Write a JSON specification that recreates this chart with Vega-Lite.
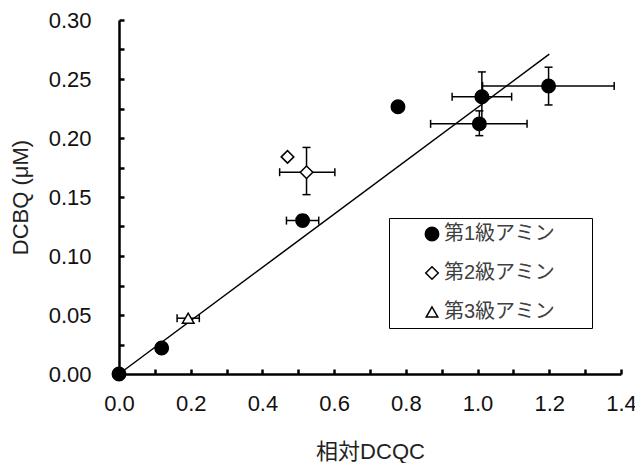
{
  "$schema": "https://vega.github.io/schema/vega-lite/v6.json",
  "width": 502,
  "height": 354,
  "autosize": {"type": "none"},
  "padding": {"left": 119, "top": 20, "right": 14, "bottom": 89},
  "background": "white",
  "datasets": {
    "pts": [
      {"type": "第1級アミン", "x": 0.0, "y": 0.0},
      {"type": "第1級アミン", "x": 0.119, "y": 0.022},
      {"type": "第1級アミン", "x": 0.512, "y": 0.130, "xlo": 0.467, "xhi": 0.557, "ylo": 0.126, "yhi": 0.135},
      {"type": "第1級アミン", "x": 0.778, "y": 0.2265},
      {"type": "第1級アミン", "x": 1.012, "y": 0.235, "xlo": 0.929, "xhi": 1.095, "ylo": 0.214, "yhi": 0.256},
      {"type": "第1級アミン", "x": 1.005, "y": 0.212, "xlo": 0.869, "xhi": 1.138, "ylo": 0.202, "yhi": 0.223},
      {"type": "第1級アミン", "x": 1.198, "y": 0.244, "xlo": 1.014, "xhi": 1.381, "ylo": 0.228, "yhi": 0.260},
      {"type": "第2級アミン", "x": 0.470, "y": 0.184},
      {"type": "第2級アミン", "x": 0.523, "y": 0.171, "xlo": 0.448, "xhi": 0.602, "ylo": 0.152, "yhi": 0.192},
      {"type": "第3級アミン", "x": 0.193, "y": 0.0473, "xlo": 0.162, "xhi": 0.224}
    ],
    "fit": [
      {"x": 0.0, "y": 0.0},
      {"x": 1.2, "y": 0.271}
    ]
  },
  "resolve": {"axis": {"x": "independent", "y": "independent"}},
  "layer": [
    {
      "data": {"name": "fit"},
      "mark": {"type": "line", "color": "black", "strokeWidth": 1.5},
      "encoding": {
        "x": {
          "field": "x", "type": "quantitative",
          "scale": {"domain": [0, 1.4], "nice": false, "zero": false},
          "axis": {
            "orient": "bottom",
            "title": null, "domain": false, "labels": false, "ticks": true,
            "tickSize": 5, "offset": -5, "tickWidth": 2.5, "tickColor": "black",
            "values": [0, 0.1, 0.2, 0.3, 0.4, 0.5, 0.6, 0.7, 0.8, 0.9, 1.0, 1.1, 1.2, 1.3, 1.4]
          }
        },
        "y": {
          "field": "y", "type": "quantitative",
          "scale": {"domain": [0, 0.3], "nice": false, "zero": false},
          "axis": {
            "orient": "left",
            "title": null, "domain": false, "labels": false, "ticks": true,
            "tickSize": 5, "offset": -5, "tickWidth": 2.5, "tickColor": "black",
            "values": [0, 0.025, 0.05, 0.075, 0.1, 0.125, 0.15, 0.175, 0.2, 0.225, 0.25, 0.275, 0.3]
          }
        }
      }
    },
    {
      "data": {"name": "pts"},
      "transform": [{"filter": "isValid(datum.xlo)"}],
      "mark": {"type": "rule", "color": "black", "strokeWidth": 1.5},
      "encoding": {
        "x": {"field": "xlo", "type": "quantitative", "axis": null},
        "x2": {"field": "xhi"},
        "y": {"field": "y", "type": "quantitative", "axis": null}
      }
    },
    {
      "data": {"name": "pts"},
      "transform": [{"filter": "isValid(datum.ylo)"}],
      "mark": {"type": "rule", "color": "black", "strokeWidth": 1.5},
      "encoding": {
        "x": {"field": "x", "type": "quantitative", "axis": null},
        "y": {"field": "ylo", "type": "quantitative", "axis": null},
        "y2": {"field": "yhi"}
      }
    },
    {
      "data": {"name": "pts"},
      "transform": [{"filter": "isValid(datum.xlo)"}],
      "mark": {"type": "tick", "orient": "vertical", "color": "black", "size": 8, "thickness": 1.5, "opacity": 1},
      "encoding": {
        "x": {"field": "xlo", "type": "quantitative", "axis": null},
        "y": {"field": "y", "type": "quantitative", "axis": null}
      }
    },
    {
      "data": {"name": "pts"},
      "transform": [{"filter": "isValid(datum.xhi)"}],
      "mark": {"type": "tick", "orient": "vertical", "color": "black", "size": 8, "thickness": 1.5, "opacity": 1},
      "encoding": {
        "x": {"field": "xhi", "type": "quantitative", "axis": null},
        "y": {"field": "y", "type": "quantitative", "axis": null}
      }
    },
    {
      "data": {"name": "pts"},
      "transform": [{"filter": "isValid(datum.ylo)"}],
      "mark": {"type": "tick", "orient": "horizontal", "color": "black", "size": 8, "thickness": 1.5, "opacity": 1},
      "encoding": {
        "x": {"field": "x", "type": "quantitative", "axis": null},
        "y": {"field": "ylo", "type": "quantitative", "axis": null}
      }
    },
    {
      "data": {"name": "pts"},
      "transform": [{"filter": "isValid(datum.yhi)"}],
      "mark": {"type": "tick", "orient": "horizontal", "color": "black", "size": 8, "thickness": 1.5, "opacity": 1},
      "encoding": {
        "x": {"field": "x", "type": "quantitative", "axis": null},
        "y": {"field": "yhi", "type": "quantitative", "axis": null}
      }
    },
    {
      "data": {"name": "pts"},
      "mark": {"type": "point", "stroke": "black", "strokeWidth": 1.5, "opacity": 1, "filled": false},
      "encoding": {
        "x": {
          "field": "x", "type": "quantitative", "title": "相対DCQC",
          "axis": {
            "orient": "bottom",
            "ticks": false, "labelPadding": 19, "titlePadding": 27,
            "values": [0, 0.2, 0.4, 0.6, 0.8, 1.0, 1.2, 1.4],
            "format": ".1f"
          }
        },
        "y": {
          "field": "y", "type": "quantitative", "title": "DCBQ (μM)",
          "axis": {
            "orient": "left",
            "ticks": false, "labelPadding": 28, "titlePadding": 16,
            "values": [0, 0.05, 0.1, 0.15, 0.2, 0.25, 0.3],
            "format": ".2f"
          }
        },
        "shape": {
          "field": "type", "type": "nominal",
          "scale": {"domain": ["第1級アミン", "第2級アミン", "第3級アミン"], "range": ["circle", "diamond", "triangle-up"]},
          "legend": {
            "title": null, "orient": "none", "legendX": 270, "legendY": 198,
            "strokeColor": "black", "padding": 6, "rowPadding": 19,
            "symbolOffset": 27, "symbolStrokeColor": "black", "symbolStrokeWidth": 1.5,
            "labelFontSize": 20, "labelColor": "#404040", "labelOffset": 2,
            "labelExpr": "datum.label + '\u2800\u2800'"
          }
        },
        "fill": {
          "field": "type", "type": "nominal",
          "scale": {"domain": ["第1級アミン", "第2級アミン", "第3級アミン"], "range": ["black", "white", "white"]}
        },
        "size": {
          "field": "type", "type": "nominal",
          "scale": {"domain": ["第1級アミン", "第2級アミン", "第3級アミン"], "range": [180, 135, 165]}
        }
      }
    }
  ],
  "config": {
    "font": "Liberation Sans, Noto Sans CJK JP",
    "view": {"stroke": null},
    "axis": {
      "grid": false,
      "domainColor": "black",
      "domainWidth": 2.5,
      "labelFont": "Liberation Sans",
      "labelFontSize": 22,
      "labelColor": "#111111",
      "labelOverlap": false,
      "labelFlush": false,
      "titleFont": "Liberation Sans, Noto Sans CJK JP",
      "titleFontSize": 22,
      "titleFontWeight": "normal",
      "titleColor": "#222222"
    },
    "legend": {
      "labelFont": "Liberation Sans, Noto Sans CJK JP"
    }
  }
}
